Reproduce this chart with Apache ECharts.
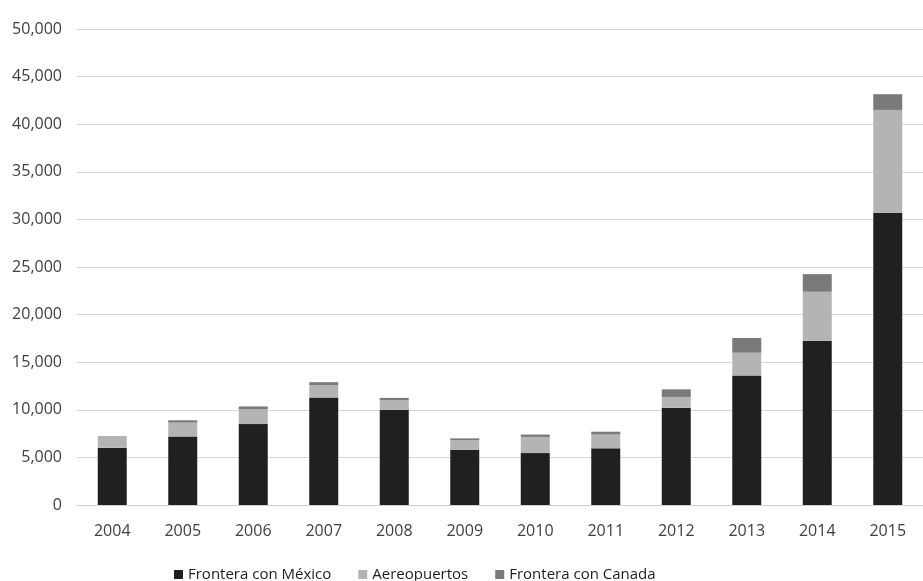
<!DOCTYPE html>
<html>
<head>
<meta charset="utf-8">
<script src="https://cdn.jsdelivr.net/npm/echarts@6/dist/echarts.min.js"></script>
<style>
  html, body { margin: 0; padding: 0; background: #ffffff; }
  #chart { width: 923px; height: 581px; }
</style>
</head>
<body>
<div id="chart"></div>
<script>
// Años
const years = ['2004','2005','2006','2007','2008','2009','2010','2011','2012','2013','2014','2015'];

// Valores por punto de entrada
const fronteraMexico = [6000, 7200, 8500, 11300, 10000, 5800, 5450, 5950, 10200, 13600, 17250, 30700];
const aeropuertos    = [1100, 1450, 1550, 1300, 1000, 1000, 1700, 1450, 1150, 2400, 5150, 10800];
const fronteraCanada = [100, 250, 300, 300, 250, 200, 250, 300, 800, 1550, 1850, 1650];

const chart = echarts.init(document.getElementById('chart'));

const labelFont = { fontFamily: 'Open Sans, Liberation Sans, sans-serif', fontSize: 16, color: '#404040' };

chart.setOption({
  backgroundColor: '#ffffff',
  animation: false,
  grid: { left: 77, right: -8, top: 29, bottom: 76, containLabel: false },
  legend: {
    top: 562,
    left: 169,
    itemWidth: 9,
    itemHeight: 9,
    itemGap: 27,
    icon: 'rect',
    textStyle: { fontFamily: 'Open Sans, Liberation Sans, sans-serif', fontSize: 15, color: '#1e1e1e' },
    data: ['Frontera con México', 'Aereopuertos', 'Frontera con Canada']
  },
  xAxis: {
    type: 'category',
    data: years,
    axisLine: { show: true, lineStyle: { color: '#d0d0d0' } },
    axisTick: { show: false },
    axisLabel: Object.assign({ margin: 18 }, labelFont)
  },
  yAxis: {
    type: 'value',
    min: 0,
    max: 50000,
    interval: 5000,
    axisLine: { show: false },
    axisTick: { show: false },
    splitLine: { lineStyle: { color: '#d6d6d6', width: 1 } },
    axisLabel: Object.assign({
      margin: 15,
      formatter: v => v.toLocaleString('en-US')
    }, labelFont)
  },
  series: [
    {
      name: 'Frontera con México',
      type: 'bar',
      stack: 'total',
      barWidth: 29,
      data: fronteraMexico,
      itemStyle: { color: '#202020' }
    },
    {
      name: 'Aereopuertos',
      type: 'bar',
      stack: 'total',
      barWidth: 29,
      data: aeropuertos,
      itemStyle: { color: '#b4b4b4' }
    },
    {
      name: 'Frontera con Canada',
      type: 'bar',
      stack: 'total',
      barWidth: 29,
      data: fronteraCanada,
      itemStyle: { color: '#7a7a7a' }
    }
  ]
});
</script>
</body>
</html>
